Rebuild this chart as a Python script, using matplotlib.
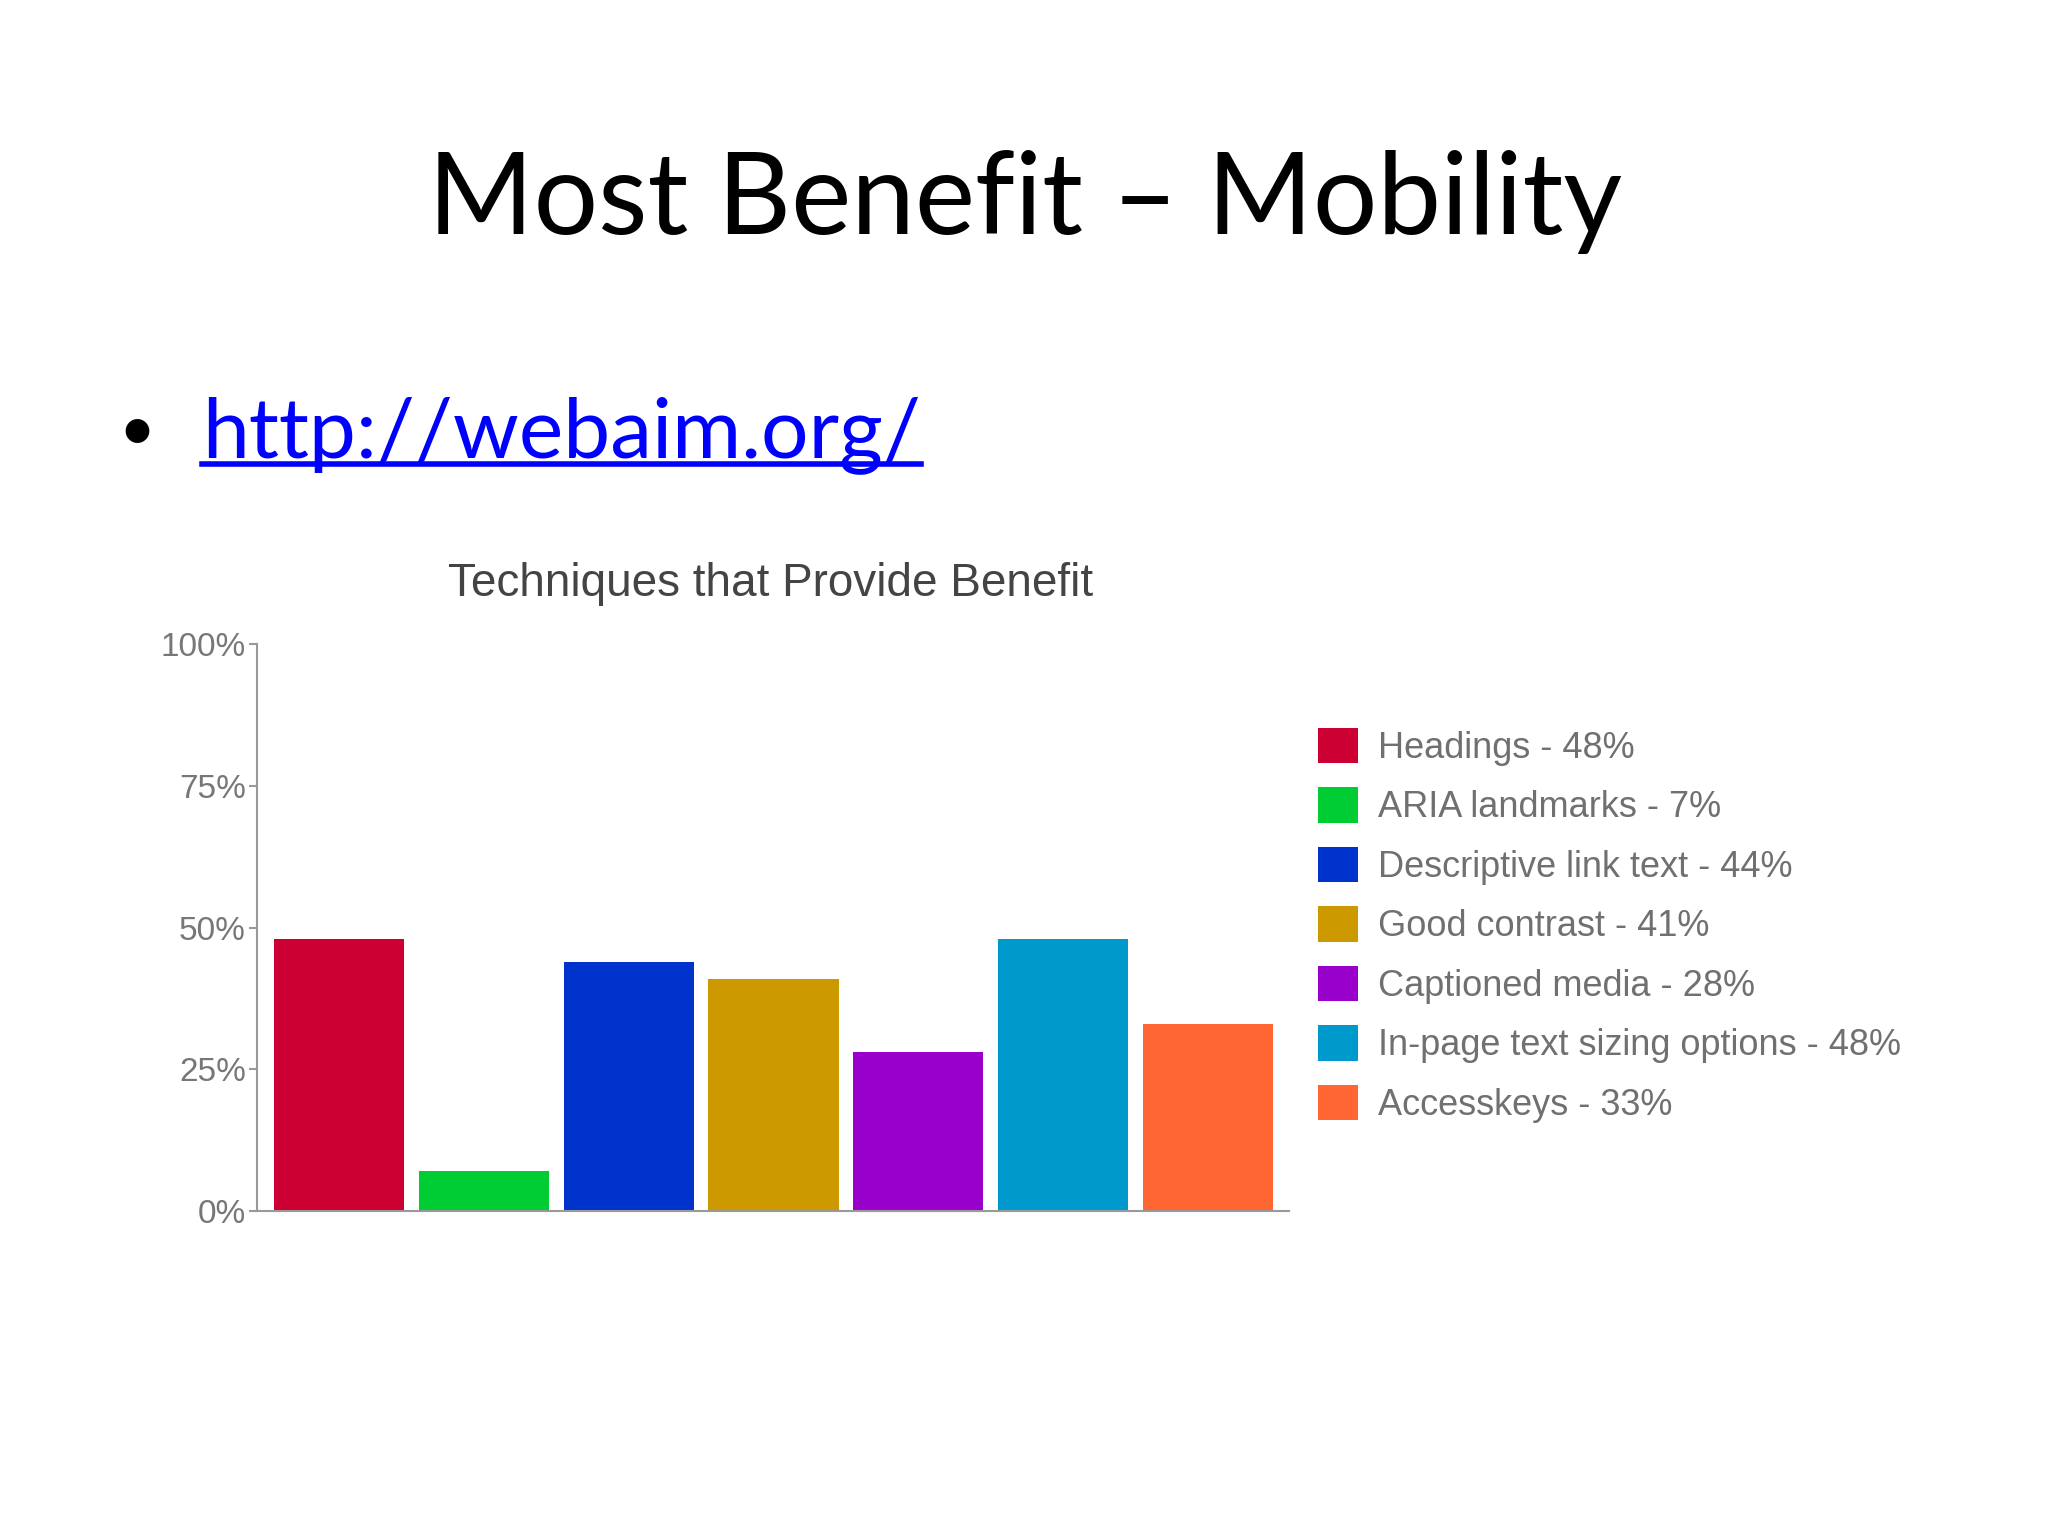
import matplotlib
matplotlib.use("Agg")
import matplotlib.pyplot as plt
from matplotlib.lines import Line2D

# ---- data ----
categories = ["Headings", "ARIA landmarks", "Descriptive link text", "Good contrast",
              "Captioned media", "In-page text sizing options", "Accesskeys"]
values = [48, 7, 44, 41, 28, 48, 33]
colors = ["#CC0033", "#00CC33", "#0033CC", "#CC9900", "#9900CC", "#0099CC", "#FF6633"]
yticks = [0, 25, 50, 75, 100]
ytick_labels = ["0%", "25%", "50%", "75%", "100%"]
slide_title = "Most Benefit – Mobility"
link_text = "http://webaim.org/"
chart_title = "Techniques that Provide Benefit"

W, H = 2048, 1536
fig = plt.figure(figsize=(W / 100, H / 100), dpi=100)
fig.patch.set_facecolor("white")

# slide title
fig.text(1025 / W, 1 - 202 / H, slide_title, ha="center", va="center",
         fontsize=82, family="Lato", color="black")

# bullet + link
fig.text(137 / W, 1 - 450 / H, "•", ha="center", va="baseline",
         fontsize=46, family="Lato", color="black")
link = fig.text(202 / W, 1 - 457 / H, link_text, ha="left", va="baseline",
                fontsize=60.5, family="Lato", color="#0000FF")

# chart axes
ax = fig.add_axes([257 / W, 1 - 1211 / H, (1289 - 257) / W, (1211 - 644) / H])
x = list(range(len(values)))
bars = ax.bar(x, values, width=0.9, color=colors, zorder=2)
ax.set_ylim(0, 100)
ax.set_xlim(-0.567, 6.56)
ax.set_yticks(yticks)
ax.set_yticklabels(ytick_labels)
ax.set_xticks([])
for s in ["top", "right"]:
    ax.spines[s].set_visible(False)
ax.spines["left"].set_color("#999999")
ax.spines["bottom"].set_color("#999999")
ax.spines["left"].set_linewidth(1.5)
ax.spines["bottom"].set_linewidth(1.5)
ax.tick_params(axis="y", colors="#999999", length=6, width=1.5, pad=2,
               labelsize=24, labelcolor="#777777")
for lab in ax.get_yticklabels():
    lab.set_family("Liberation Sans")

fig.text(771 / W, 1 - 584 / H, chart_title, ha="center", va="center",
         fontsize=33, family="Liberation Sans", color="#444444")

labels = [f"{c} - {v}%" for c, v in zip(categories, values)]
leg = fig.legend(bars.patches, labels, loc="upper left",
                 bbox_to_anchor=(1318 / W, 1 - 728 / H), frameon=False,
                 handlelength=1.12, handleheight=1.12, handletextpad=0.55,
                 labelspacing=0.60, borderaxespad=0, borderpad=0,
                 prop={"family": "Liberation Sans", "size": 26})
for t in leg.get_texts():
    t.set_color("#707070")

# underline for the link
fig.canvas.draw()
bb = link.get_window_extent()
fig.add_artist(Line2D([bb.x0 / W, bb.x1 / W], [1 - 464 / H, 1 - 464 / H],
                      color="#0000FF", linewidth=4, transform=fig.transFigure))

fig.savefig("out.png", dpi=100, facecolor="white")
